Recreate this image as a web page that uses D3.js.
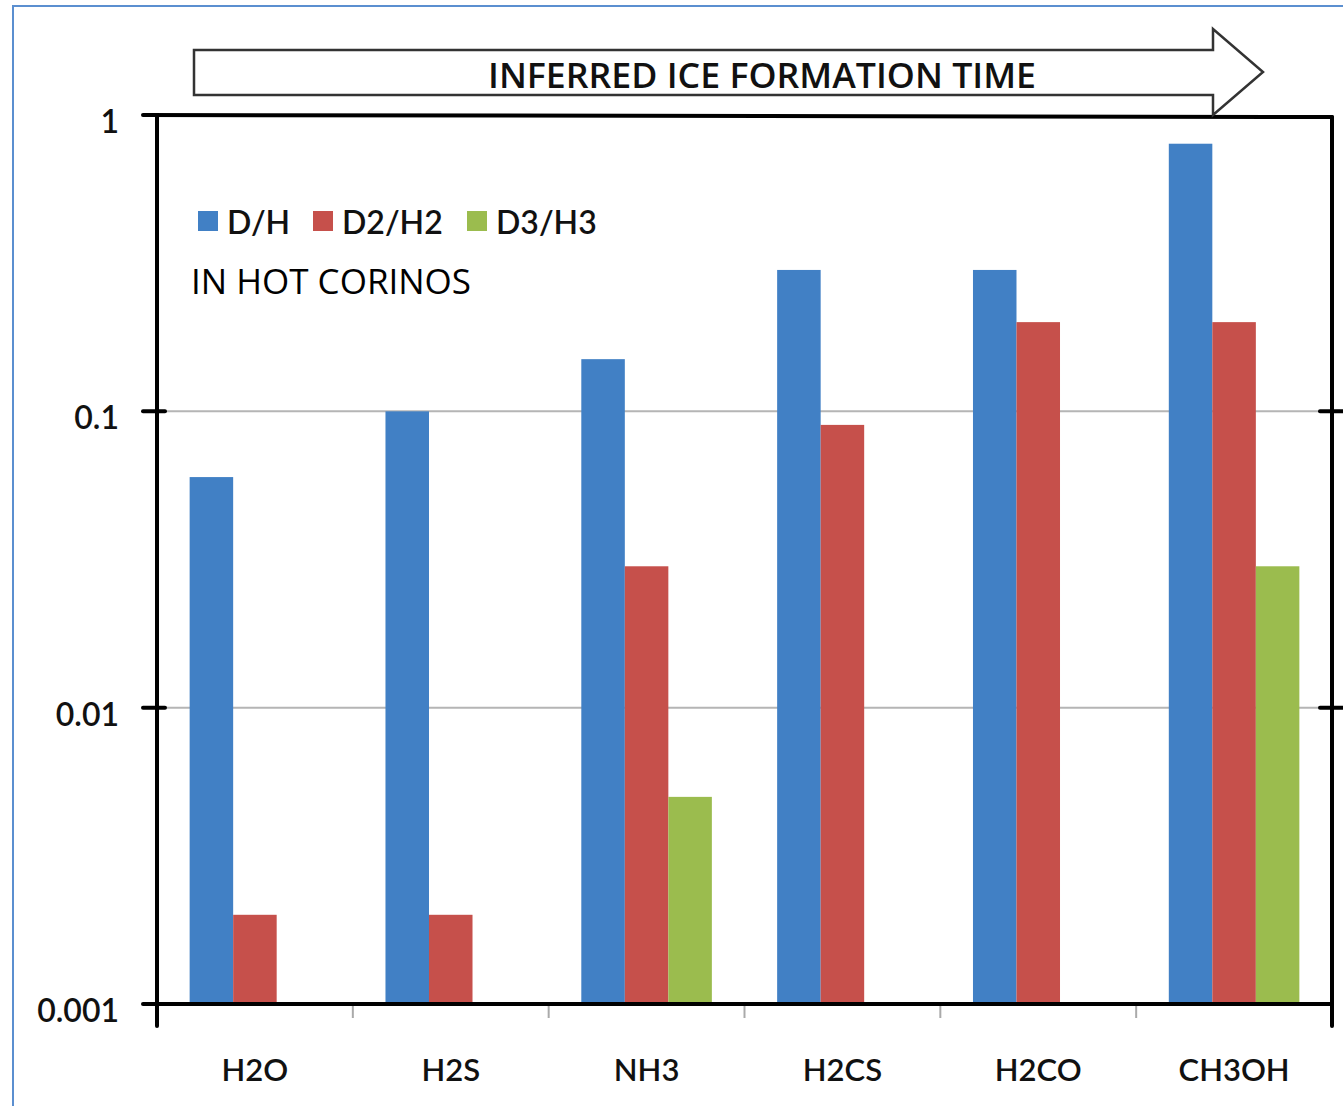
<!DOCTYPE html>
<html>
<head>
<meta charset="utf-8">
<script src="https://cdnjs.cloudflare.com/ajax/libs/d3/7.8.5/d3.min.js"></script>
<style>
  html, body { margin: 0; padding: 0; background: #fff; }
  svg { display: block; }
</style>
</head>
<body>
<script>
// Deuteration ratios of molecules in hot corinos
const categories = ["H2O", "H2S", "NH3", "H2CS", "H2CO", "CH3OH"];
const seriesNames = ["D/H", "D2/H2", "D3/H3"];
const dhValues  = [0.06, 0.1, 0.15, 0.3, 0.3, 0.8];
const d2h2Values = [0.002, 0.002, 0.03, 0.09, 0.2, 0.2];
const d3h3Values = [null, null, 0.005, null, null, 0.03];
const seriesColors = ["#4180c5", "#c6504b", "#9bbc4e"];
const yTicks = [1, 0.1, 0.01, 0.001];
const yTickLabels = ["1", "0.1", "0.01", "0.001"];

const W = 1343, H = 1106;
const svg = d3.select("body").append("svg").attr("width", W).attr("height", H);

// outer frame
svg.append("rect").attr("x", 13).attr("y", 6).attr("width", W + 10).attr("height", H + 10)
  .attr("fill", "none").attr("stroke", "#5b8fd0").attr("stroke-width", 2);

const plot = { left: 157, right: 1332, top: 115, bottom: 1004 };

const x = d3.scaleBand().domain(categories).range([plot.left, plot.right]).paddingInner(0).paddingOuter(0);
const xs = d3.scaleBand().domain(seriesNames).range([0, x.bandwidth()]).paddingInner(0).paddingOuter(0.75);
const y = d3.scaleLog().domain([0.001, 1]).range([plot.bottom, plot.top]);

// gridlines
svg.append("g").selectAll("line").data([0.1, 0.01]).join("line")
  .attr("x1", plot.left).attr("x2", plot.right)
  .attr("y1", d => y(d)).attr("y2", d => y(d))
  .attr("stroke", "#b5b5b5").attr("stroke-width", 2);

// bars
const rows = categories.map((c, i) => ({ cat: c, vals: [dhValues[i], d2h2Values[i], d3h3Values[i]] }));
const groups = svg.append("g").selectAll("g").data(rows).join("g")
  .attr("transform", d => `translate(${x(d.cat)},0)`);
groups.selectAll("rect")
  .data(d => d.vals.map((v, j) => ({ v, s: seriesNames[j], j })).filter(e => e.v != null))
  .join("rect")
  .attr("x", e => xs(e.s))
  .attr("width", xs.bandwidth())
  .attr("y", e => y(e.v))
  .attr("height", e => plot.bottom - y(e.v))
  .attr("fill", e => seriesColors[e.j]);

// category separator ticks
svg.append("g").selectAll("line").data(categories.slice(1)).join("line")
  .attr("x1", d => x(d)).attr("x2", d => x(d))
  .attr("y1", plot.bottom + 2).attr("y2", plot.bottom + 14)
  .attr("stroke", "#aaa").attr("stroke-width", 2);

// x axis labels
const xAxis = d3.axisBottom(x).tickSize(0).tickPadding(0);
const gx = svg.append("g").attr("transform", `translate(0,${plot.bottom})`).call(xAxis);
gx.select(".domain").remove();
gx.selectAll("text")
  .attr("y", 77).attr("dy", 0)
  .style("font-family", "Lato, 'Open Sans', sans-serif")
  .style("font-size", "31px").style("font-weight", "600").attr("fill", "#111");

// y axis labels
const yAxis = d3.axisLeft(y).tickValues(yTicks).tickFormat((d, i) => yTickLabels[i]).tickSize(0).tickPadding(0);
const gy = svg.append("g").attr("transform", `translate(119,0)`).call(yAxis);
gy.select(".domain").remove();
gy.selectAll("text")
  .attr("dy", "0.36em").attr("y", 6)
  .style("font-family", "Lato, 'Open Sans', sans-serif")
  .style("font-size", "32px").style("font-weight", "600").attr("fill", "#111");

// heavy frame lines and crosses
const frame = svg.append("g").attr("stroke", "#000").attr("stroke-width", 4).attr("stroke-linecap", "round");
frame.append("line").attr("x1", 143).attr("x2", plot.right).attr("y1", plot.top).attr("y2", plot.top + 2);
frame.append("line").attr("x1", plot.left).attr("x2", plot.left).attr("y1", plot.top).attr("y2", 1026);
frame.append("line").attr("x1", plot.right).attr("x2", plot.right).attr("y1", plot.top + 2).attr("y2", 1026);
frame.append("line").attr("x1", 143).attr("x2", plot.right).attr("y1", plot.bottom).attr("y2", plot.bottom);
frame.selectAll(".lt").data([0.1, 0.01]).join("line").attr("class", "lt")
  .attr("x1", 143).attr("x2", 165).attr("y1", d => y(d)).attr("y2", d => y(d));
frame.selectAll(".rt").data([0.1, 0.01]).join("line").attr("class", "rt")
  .attr("x1", 1320).attr("x2", 1345).attr("y1", d => y(d)).attr("y2", d => y(d));

// time arrow
const arrow = d3.path();
arrow.moveTo(194, 50); arrow.lineTo(1213, 50); arrow.lineTo(1213, 29);
arrow.lineTo(1263, 72); arrow.lineTo(1213, 115); arrow.lineTo(1213, 95);
arrow.lineTo(194, 95); arrow.closePath();
svg.append("path").attr("d", arrow.toString())
  .attr("fill", "#fff").attr("stroke", "#333").attr("stroke-width", 2.5).attr("stroke-linejoin", "miter");
svg.append("text").attr("x", 762).attr("y", 88).attr("text-anchor", "middle")
  .style("font-family", "'Open Sans', sans-serif").style("font-size", "34px").style("font-weight", "600")
  .attr("fill", "#111").attr("textLength", 548).attr("lengthAdjust", "spacingAndGlyphs")
  .text("INFERRED ICE FORMATION TIME");

// legend
const legendX = [198, 313, 467];
const leg = svg.append("g").selectAll("g").data(seriesNames).join("g")
  .attr("transform", (d, i) => `translate(${legendX[i]},211)`);
leg.append("rect").attr("width", 20).attr("height", 20).attr("fill", (d, i) => seriesColors[i]);
leg.append("text").attr("x", 29).attr("y", 23)
  .style("font-family", "Lato, 'Open Sans', sans-serif").style("font-size", "32px").style("font-weight", "600")
  .attr("fill", "#111").text(d => d);

svg.append("text").attr("x", 191).attr("y", 294)
  .style("font-family", "'Open Sans', sans-serif").style("font-size", "35px")
  .attr("fill", "#000").text("IN HOT CORINOS");
</script>
</body>
</html>
